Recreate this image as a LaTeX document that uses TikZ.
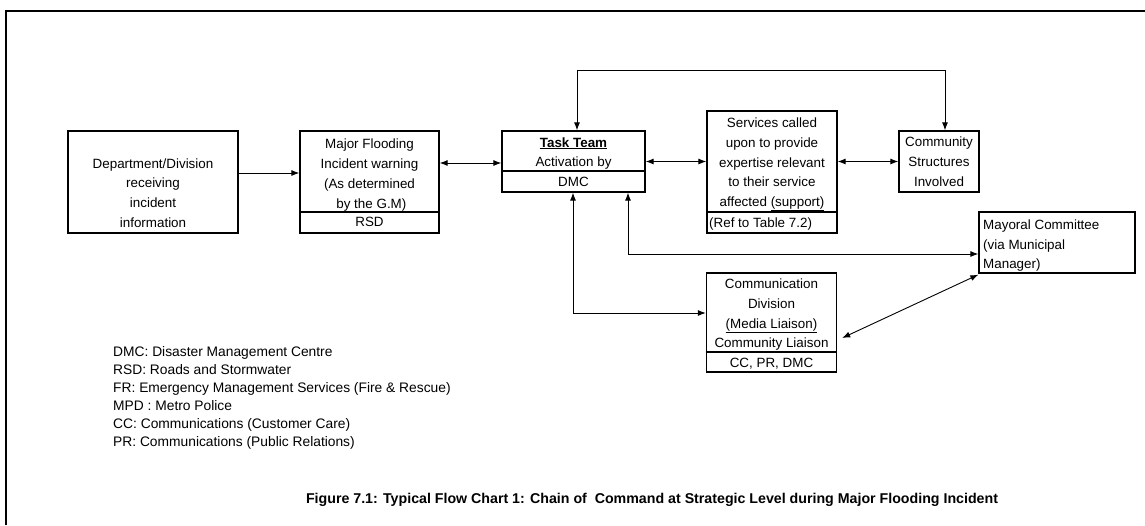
\documentclass[tikz,border=0pt]{standalone}
\usepackage{fontspec}
\setmainfont{Liberation Sans}
\usetikzlibrary{arrows.meta}
\newcommand\boxfont{\fontsize{13.4}{19.7}\selectfont}
\newcommand\legfont{\fontsize{13.8}{18}\selectfont}
\newcommand\capfont{\fontsize{14.2}{17}\selectfont\bfseries}
\tikzset{
  box/.style={draw, line width=1.3pt, inner sep=0pt},
  txt/.style={inner sep=0pt, font=\boxfont, align=center, anchor=base},
  ltxt/.style={inner sep=0pt, font=\boxfont, align=left, anchor=base west},
  conn/.style={line width=0.9pt, -{Latex[length=8pt,width=6pt]}},
  dconn/.style={line width=0.9pt, {Latex[length=8pt,width=6pt]}-{Latex[length=8pt,width=6pt]}},
  divider/.style={line width=1.3pt}
}
\begin{document}
\begin{tikzpicture}[x=1pt,y=-1pt]
\useasboundingbox (0,0) rectangle (1145,525);
\fill[white] (0,0) rectangle (1145,525);
% frame
\draw[line width=2pt] (6,525) -- (6,11) -- (1145,11);

% boxes
\node[box, minimum width=170pt, minimum height=102pt] (dept) at (153,182) {};
\node[box, minimum width=139pt, minimum height=102pt] (mf) at (369.5,182) {};
\node[box, minimum width=143pt, minimum height=61pt] (tt) at (573.5,161.5) {};
\node[box, minimum width=130pt, minimum height=122pt] (sv) at (772,172) {};
\node[box, minimum width=80pt, minimum height=61pt] (cs) at (939,161.5) {};
\node[box, minimum width=156pt, minimum height=61pt] (may) at (1057,242.5) {};
\node[box, minimum width=130pt, minimum height=99pt] (comm) at (771.5,322.5) {};

% dividers
\draw[divider] (mf.west |- 0,212) -- (mf.east |- 0,212);
\draw[divider] (tt.west |- 0,171) -- (tt.east |- 0,171);
\draw[divider] (sv.west |- 0,212) -- (sv.east |- 0,212);
\draw[divider] (comm.west |- 0,352) -- (comm.east |- 0,352);

% texts (anchor base = baseline of last line)
\node[txt] (dept-t) at (153,227.1) {Department/Division\\receiving\\incident\\information};
\node[txt] (mf-t) at (369.5,208) {Major Flooding\\Incident warning\\(As determined\\\ by the G.M)};
\node[txt] (mf-b) at (369.5,226.7) {RSD};
\node[txt] (tt-t) at (573.5,166.7) {\textbf{\underline{Task Team}}\\Activation by};
\node[txt] (tt-b) at (573.5,186.7) {DMC};
\node[txt] (sv-t) at (772,206.5) {Services called\\upon to provide\\expertise relevant\\to their service\\affected \underline{(support)}};
\node[ltxt] (sv-b) at (709,227.7) {(Ref to Table 7.2)};
\node[txt] (cs-t) at (939,186.3) {Community\\Structures\\Involved};
\node[ltxt] (may-t) at (983,268.7) {Mayoral Committee\\(via Municipal\\Manager)};
\node[txt] (comm-t) at (771.5,347.7) {Communication\\Division\\\underline{(Media Liaison)}\\Community Liaison};
\node[txt] (comm-b) at (771.5,367.7) {CC, PR, DMC};

% connectors
\draw[conn] ([yshift=9pt]dept.east) -- ([yshift=9pt]mf.west);
\draw[dconn] ([yshift=19pt]mf.east) -- ([yshift=19pt]mf.east -| tt.west);
\draw[dconn] (tt.east) -- (tt.east -| sv.west);
\draw[dconn] (cs.west -| sv.east) -- (cs.west);
\draw[dconn] ([xshift=3.5pt]tt.north) -- ++(0,-60) -| ([xshift=6pt]cs.north);
\draw[dconn] ([xshift=-0.5pt]tt.south) |- ([yshift=9.5pt]comm.west);
\draw[dconn] ([xshift=54.5pt]tt.south) |- ([yshift=-11.5pt]may.west);
\draw[dconn] ([yshift=-1pt]may.south west) -- ([xshift=5pt,yshift=-15.5pt]comm.east);

% legend
\node[inner sep=0pt, font=\legfont, align=left, anchor=base west] (legend) at (113,446.7)
 {DMC: Disaster Management Centre\\RSD: Roads and Stormwater\\FR: Emergency Management Services (Fire \& Rescue)\\MPD : Metro Police\\CC: Communications (Customer Care)\\PR: Communications (Public Relations)};

% caption
\node[inner sep=0pt, font=\capfont, anchor=base] (caption) at (652,503.5)
 {Figure 7.1: Typical Flow Chart 1: Chain of\ \ Command at Strategic Level during Major Flooding Incident};
\end{tikzpicture}
\end{document}
